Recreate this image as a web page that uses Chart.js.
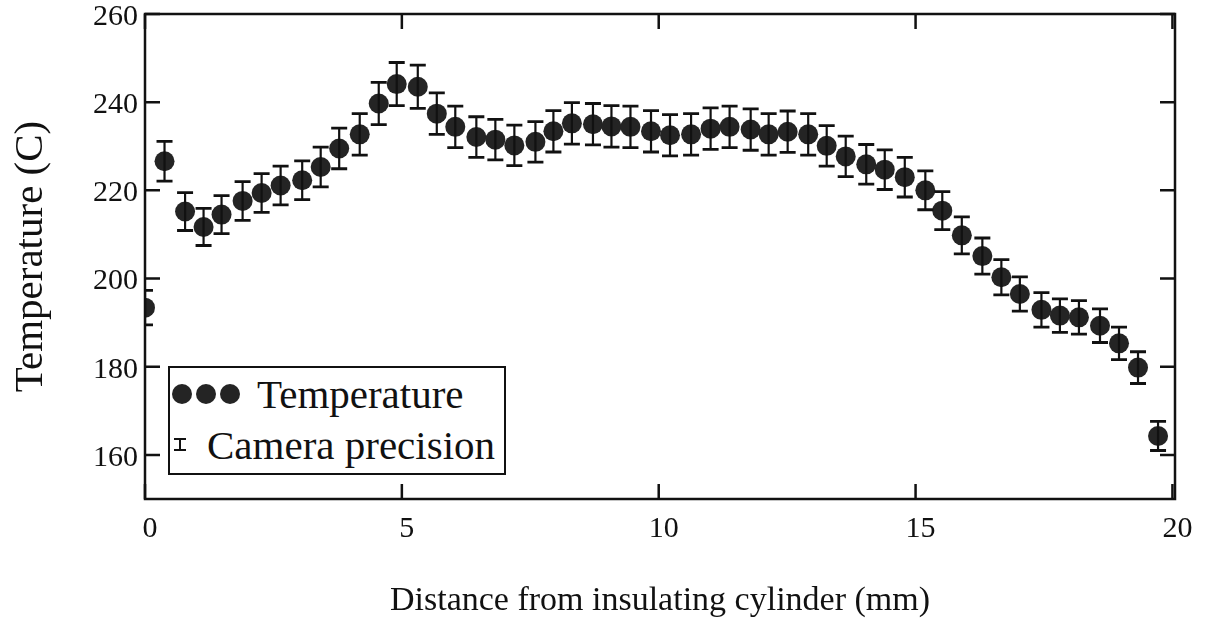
<!DOCTYPE html>
<html>
<head>
<meta charset="utf-8">
<script src="https://cdn.jsdelivr.net/npm/chart.js"></script>
<style>
  body { margin: 0; background: #fff; }
  #wrap { position: relative; width: 1208px; height: 629px; }
  #legend {
    position: absolute; left: 168px; top: 366px; width: 334px; height: 105px;
    border: 2.5px solid #111; background: #fff; color: #111;
    font-family: "Liberation Serif", "Times New Roman", serif; font-size: 41px;
  }
  .row { height: 51px; display: flex; align-items: center; white-space: nowrap; }
  .dot { width: 20px; height: 20px; border-radius: 50%; background: #242424; margin-right: 4px; }
  .dot:first-child { margin-left: 2px; }
  .dot.last { margin-right: 17px; }
  .ebar {
    position: relative; width: 12px; height: 13px; box-sizing: border-box;
    border-top: 2.5px solid #111; border-bottom: 2.5px solid #111;
    margin-left: 4px; margin-right: 21px;
  }
  .ebar::after { content: ''; position: absolute; left: 5px; top: 0; bottom: 0; width: 2px; background: #111; }
</style>
</head>
<body>
<div id="wrap">
  <canvas id="tempChart" width="1208" height="629"></canvas>
  <div id="legend"></div>
</div>
<script>
  // distance from insulating cylinder (mm)
  var distance = [0.00, 0.38, 0.78, 1.14, 1.49, 1.90, 2.27, 2.64, 3.06, 3.42,
                  3.78, 4.18, 4.55, 4.90, 5.31, 5.68, 6.04, 6.45, 6.82, 7.19,
                  7.60, 7.95, 8.31, 8.72, 9.08, 9.45, 9.85, 10.22, 10.63, 11.01,
                  11.38, 11.79, 12.14, 12.51, 12.91, 13.27, 13.64, 14.04, 14.40, 14.79,
                  15.19, 15.52, 15.90, 16.30, 16.67, 17.03, 17.45, 17.81, 18.18, 18.59,
                  18.96, 19.33, 19.72];
  // temperature (C)
  var temperature = [193.4, 226.6, 215.2, 211.7, 214.5, 217.6, 219.4, 221.1, 222.3, 225.3,
                     229.5, 232.7, 239.7, 244.1, 243.5, 237.4, 234.4, 232.1, 231.5, 230.2,
                     231.0, 233.4, 235.2, 235.0, 234.5, 234.4, 233.4, 232.5, 232.7, 234.0,
                     234.4, 233.8, 232.7, 233.3, 232.7, 230.1, 227.7, 225.9, 224.7, 223.0,
                     220.0, 215.4, 209.8, 205.1, 200.3, 196.5, 192.9, 191.6, 191.2, 189.3,
                     185.3, 179.8, 164.3];
  // camera precision, +/- (C)
  var precision = [3.9, 4.5, 4.3, 4.2, 4.3, 4.4, 4.4, 4.4, 4.4, 4.5,
                   4.6, 4.7, 4.8, 4.9, 4.9, 4.7, 4.7, 4.6, 4.6, 4.6,
                   4.6, 4.7, 4.7, 4.7, 4.7, 4.7, 4.7, 4.7, 4.7, 4.7,
                   4.7, 4.7, 4.7, 4.7, 4.7, 4.6, 4.6, 4.5, 4.5, 4.5,
                   4.4, 4.3, 4.2, 4.1, 4.0, 3.9, 3.9, 3.8, 3.8, 3.8,
                   3.7, 3.6, 3.3];
  var xTicks = [0, 5, 10, 15, 20];
  var yTicks = [160, 180, 200, 220, 240, 260];

  var ink = '#111';
  var serif = '"Liberation Serif", "Times New Roman", serif';

  var points = distance.map(function (d, i) { return { x: d, y: temperature[i] }; });

  // error bars drawn through the scales
  var errorBars = {
    id: 'errorBars',
    afterDatasetsDraw: function (chart) {
      var ctx = chart.ctx, a = chart.chartArea;
      var xs = chart.scales.x, ys = chart.scales.y;
      ctx.save();
      ctx.beginPath();
      ctx.rect(a.left, a.top, a.right - a.left, a.bottom - a.top);
      ctx.clip();
      ctx.strokeStyle = ink;
      for (var i = 0; i < distance.length; i++) {
        var px = xs.getPixelForValue(distance[i]);
        var top = ys.getPixelForValue(temperature[i] + precision[i]);
        var bot = ys.getPixelForValue(temperature[i] - precision[i]);
        ctx.lineWidth = 2.2;
        ctx.beginPath();
        ctx.moveTo(px, top); ctx.lineTo(px, bot);
        ctx.stroke();
        ctx.lineWidth = 2.8;
        ctx.beginPath();
        ctx.moveTo(px - 8, top); ctx.lineTo(px + 8, top);
        ctx.moveTo(px - 8, bot); ctx.lineTo(px + 8, bot);
        ctx.stroke();
      }
      ctx.restore();
    }
  };

  // box round the plot with inward ticks on all four sides
  var frame = {
    id: 'frame',
    afterDraw: function (chart) {
      var ctx = chart.ctx, a = chart.chartArea;
      var xs = chart.scales.x, ys = chart.scales.y;
      var len = 15;
      ctx.save();
      ctx.strokeStyle = ink;
      ctx.lineWidth = 2.5;
      ctx.strokeRect(a.left, a.top, a.right - a.left, a.bottom - a.top);
      ctx.beginPath();
      xTicks.forEach(function (v) {
        var px = xs.getPixelForValue(v);
        ctx.moveTo(px, a.bottom); ctx.lineTo(px, a.bottom - len);
        ctx.moveTo(px, a.top); ctx.lineTo(px, a.top + len);
      });
      yTicks.forEach(function (v) {
        var py = ys.getPixelForValue(v);
        ctx.moveTo(a.left, py); ctx.lineTo(a.left + len, py);
        ctx.moveTo(a.right, py); ctx.lineTo(a.right - len, py);
      });
      ctx.stroke();
      ctx.restore();
    }
  };

  var chart = new Chart(document.getElementById('tempChart'), {
    type: 'scatter',
    data: {
      datasets: [{
        label: 'Temperature',
        data: points,
        pointRadius: 10,
        pointBackgroundColor: '#242424',
        pointBorderWidth: 0,
        showLine: false,
        clip: { left: 0, top: 0, right: 0, bottom: 0 }
      }]
    },
    options: {
      responsive: false,
      animation: false,
      layout: { padding: { top: 14, right: 33, left: 0, bottom: 0 } },
      plugins: { legend: { display: false }, tooltip: { enabled: false } },
      scales: {
        x: {
          type: 'linear', min: 0, max: 20.05,
          afterBuildTicks: function (s) { s.ticks = xTicks.map(function (v) { return { value: v }; }); },
          afterFit: function (s) { s.height = 130; s.paddingLeft = 0; },
          grid: { display: false, drawTicks: false },
          border: { display: false },
          ticks: { color: ink, font: { family: serif, size: 30 }, padding: 12, maxRotation: 0, labelOffset: 5 },
          title: {
            display: true, text: 'Distance from insulating cylinder (mm)', color: ink,
            font: { family: serif, size: 34 }, padding: { top: 0, bottom: 8 }
          }
        },
        y: {
          type: 'linear', min: 150, max: 260,
          afterBuildTicks: function (s) { s.ticks = yTicks.map(function (v) { return { value: v }; }); },
          afterFit: function (s) { s.width = 145; s.paddingTop = 0; s.paddingBottom = 0; },
          grid: { display: false, drawTicks: false },
          border: { display: false },
          ticks: { color: ink, font: { family: serif, size: 30 }, padding: 7, labelOffset: 3 },
          title: {
            display: true, text: 'Temperature (C)', color: ink,
            font: { family: serif, size: 41 }, padding: { top: 7, bottom: 0 }
          }
        }
      }
    },
    plugins: [errorBars, frame]
  });

  // legend box inside the plot
  var label = chart.data.datasets[0].label;
  document.getElementById('legend').innerHTML =
    '<div class="row"><span class="dot"></span><span class="dot"></span><span class="dot last"></span>' + label + '</div>' +
    '<div class="row"><span class="ebar"></span>Camera precision</div>';
</script>
</body>
</html>
